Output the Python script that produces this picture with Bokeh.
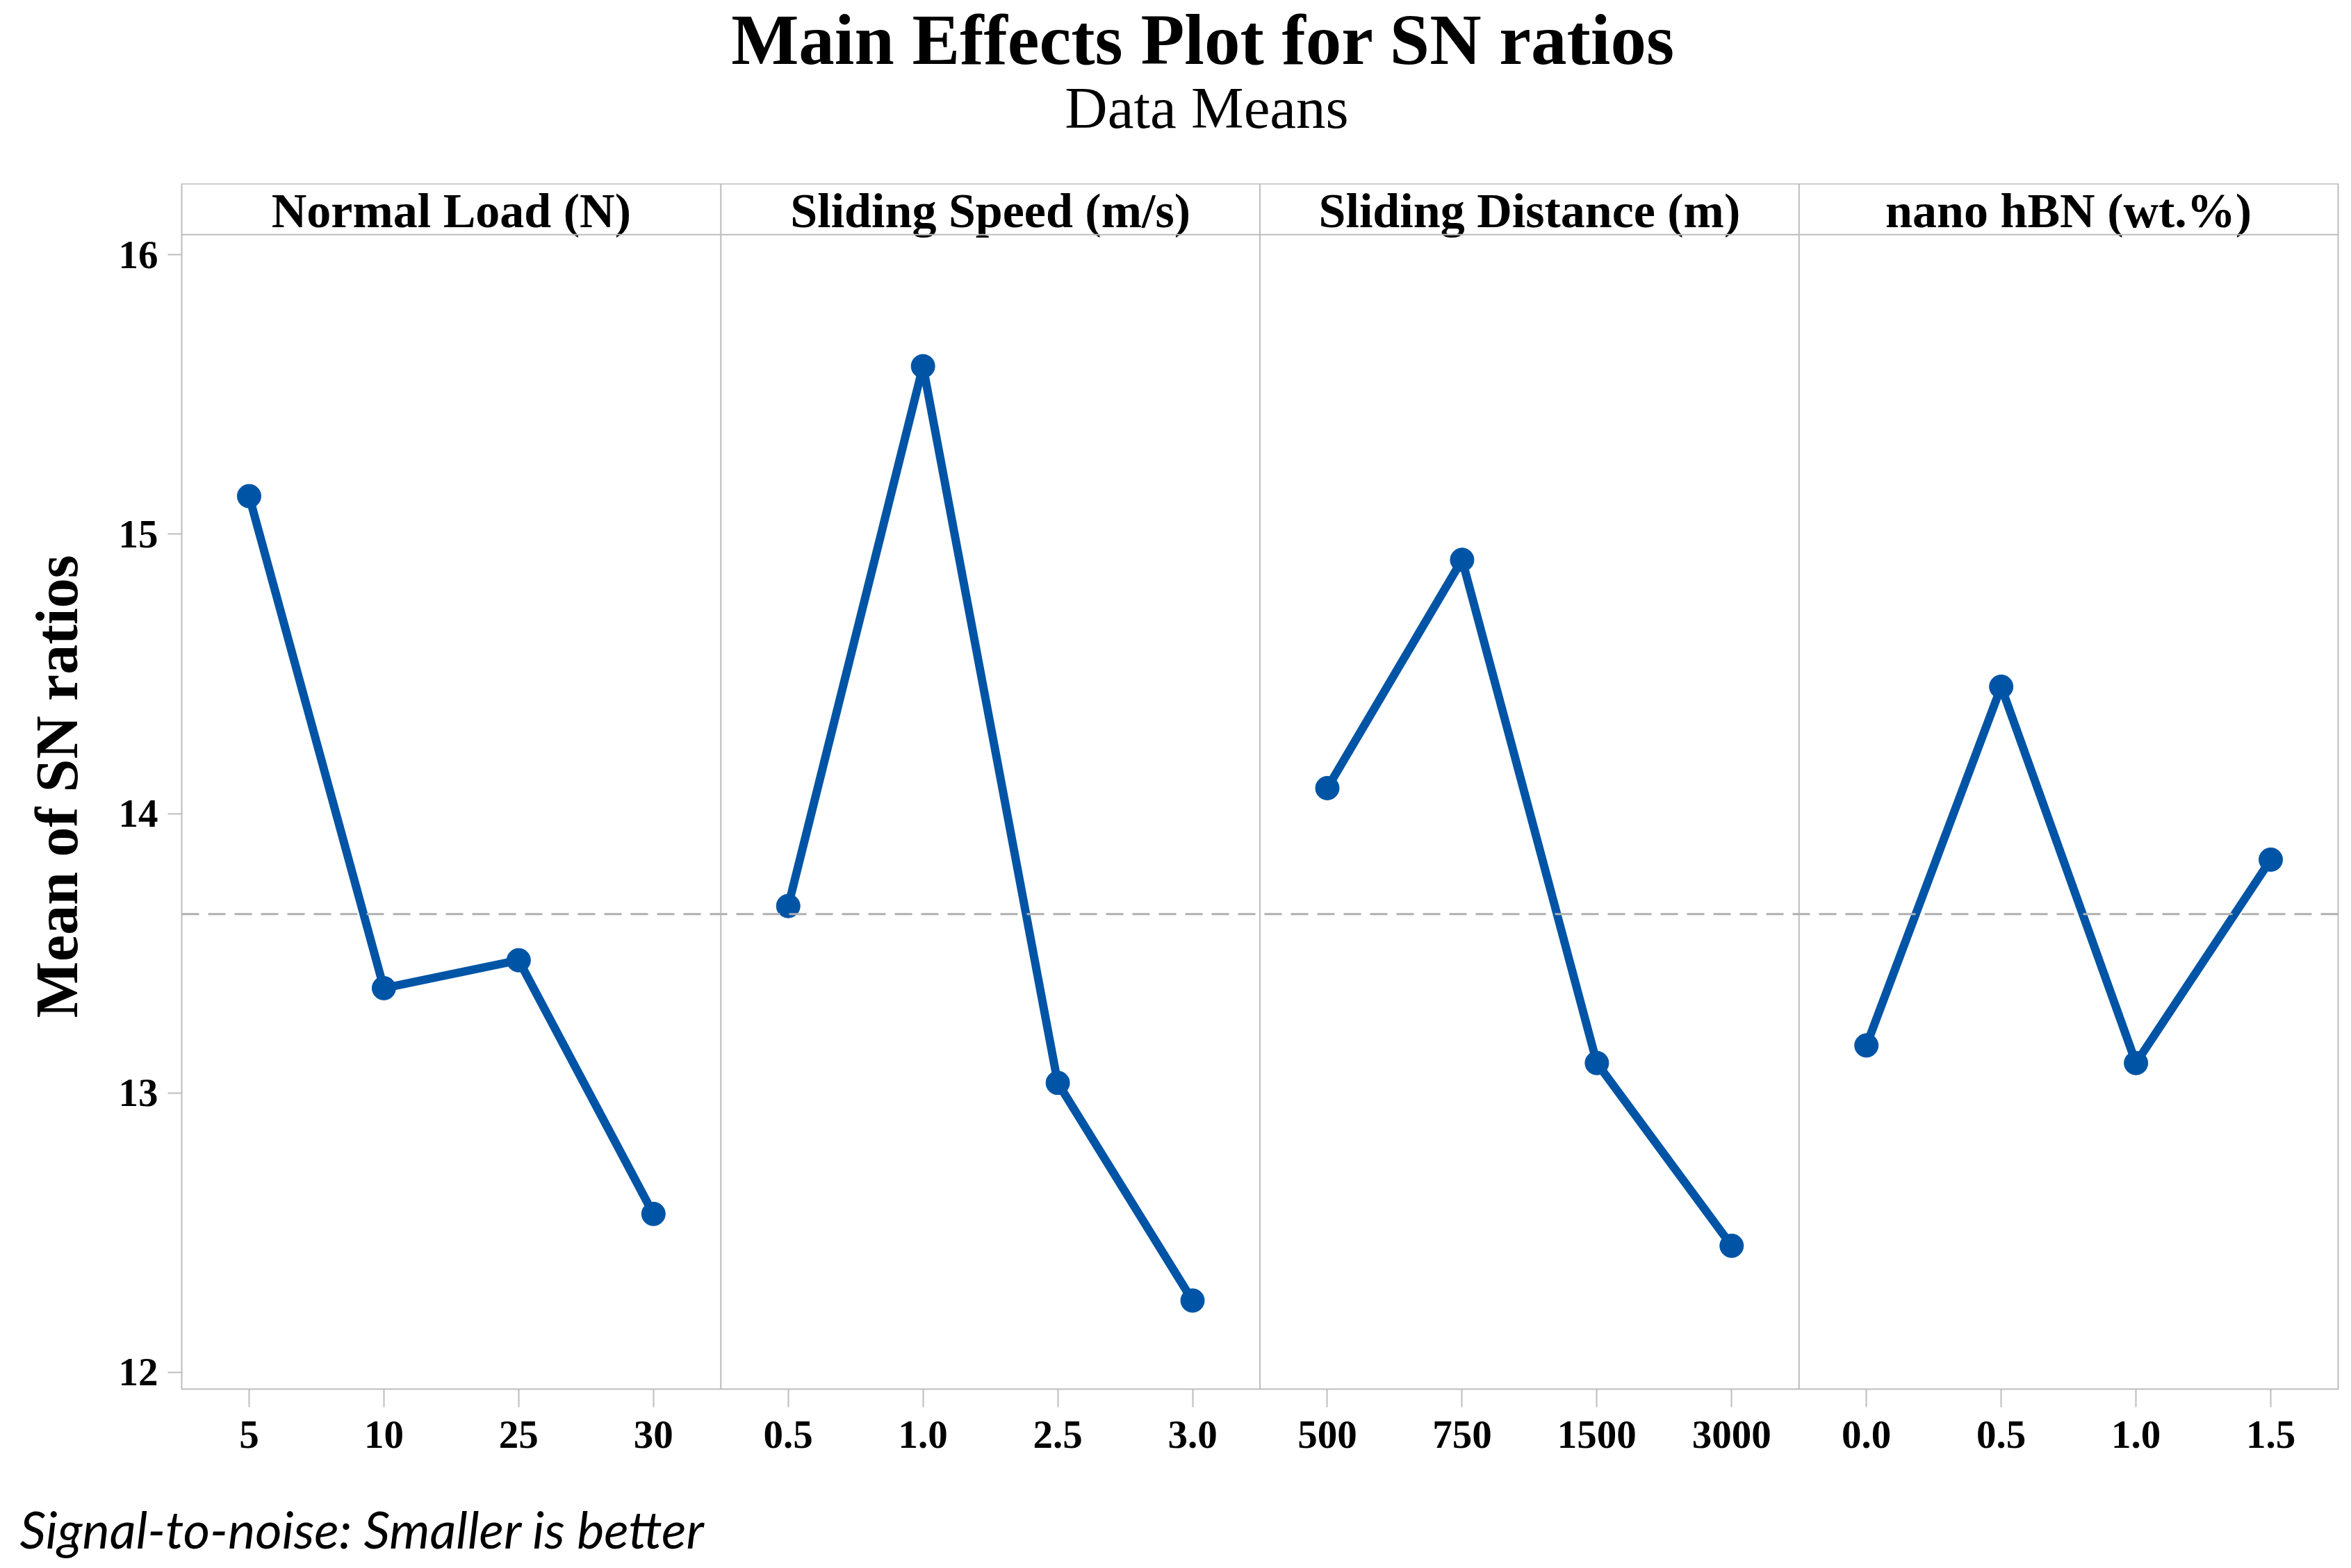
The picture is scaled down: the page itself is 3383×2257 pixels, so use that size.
from bokeh.plotting import figure
from bokeh.layouts import column
from bokeh.models import FixedTicker, Span, Range1d, ColumnDataSource
from bokeh.core.properties import value
from bokeh.embed import file_html
from bokeh.resources import INLINE

# ---- data ----
factors = ["Normal Load (N)", "Sliding Speed (m/s)", "Sliding Distance (m)", "nano hBN (wt.%)"]
load_levels = ["5", "10", "25", "30"]
speed_levels = ["0.5", "1.0", "2.5", "3.0"]
distance_levels = ["500", "750", "1500", "3000"]
hbn_levels = ["0.0", "0.5", "1.0", "1.5"]
load_sn = [15.136, 13.375, 13.475, 12.567]
speed_sn = [13.669, 15.601, 13.036, 12.257]
distance_sn = [14.091, 14.908, 13.107, 12.453]
hbn_sn = [13.170, 14.454, 13.107, 13.835]
y_ticks = [12, 13, 14, 15, 16]

all_levels = [load_levels, speed_levels, distance_levels, hbn_levels]
all_sn = [load_sn, speed_sn, distance_sn, hbn_sn]
n_lev = len(load_levels)
grand_mean = sum(sum(s) for s in all_sn) / sum(len(s) for s in all_sn)

BLUE = "#0054a6"
GRAY = "#bdbdbd"
SERIF = "Liberation Serif"

W = 3376
TOP_H = 264
MAIN_H = 1876
FOOT_H = 110

# layout constants (annotation positions)
Y_LO, Y_HI = 11.940, 16.254
STRIP_BOTTOM = 16.072
STRIP_BASE = 16.157


def blank(h):
    f = figure(width=W, height=h, output_backend="svg", toolbar_location=None,
               x_range=Range1d(0, W), y_range=Range1d(0, h),
               min_border=0, title=None)
    f.axis.visible = False
    f.grid.visible = False
    f.outline_line_color = None
    f.background_fill_color = "white"
    f.border_fill_color = "white"
    f.frame_align = False
    return f


# ---- title block ----
top = blank(TOP_H)
top.text(x=[1731], y=[208], text=["Main Effects Plot for SN ratios"], text_align="center",
         text_baseline="alphabetic", text_font=value(SERIF), text_font_style="bold",
         text_font_size="103px", text_color="black")
top.text(x=[1736], y=[110], text=["Data Means"], text_align="center",
         text_baseline="alphabetic", text_font=value(SERIF), text_font_style="normal",
         text_font_size="85px", text_color="black")

# ---- main panel ----
p = figure(width=W, height=MAIN_H, output_backend="svg", toolbar_location=None,
           x_range=Range1d(0, n_lev * len(factors)), y_range=Range1d(Y_LO, Y_HI),
           min_border_left=261, min_border_right=12, min_border_top=0, min_border_bottom=141,
           title=None)
p.background_fill_color = "white"
p.border_fill_color = "white"
p.outline_line_color = GRAY
p.outline_line_width = 2
p.xgrid.visible = False
p.ygrid.visible = False

tick_pos = []
overrides = {}
for k, (levs, vals) in enumerate(zip(all_levels, all_sn)):
    xs = [k * n_lev + i + 0.5 for i in range(len(levs))]
    src = ColumnDataSource(dict(x=xs, y=vals))
    p.line("x", "y", source=src, line_color=BLUE, line_width=12)
    p.scatter("x", "y", source=src, size=34, fill_color=BLUE, line_color=BLUE)
    for x, lab in zip(xs, levs):
        tick_pos.append(x)
        overrides[x] = lab

for k in range(1, len(factors)):
    p.add_layout(Span(location=k * n_lev, dimension="height", line_color=GRAY, line_width=2))
p.add_layout(Span(location=STRIP_BOTTOM, dimension="width", line_color=GRAY, line_width=2))
p.add_layout(Span(location=grand_mean, dimension="width", line_color="#b0b0b0",
                  line_width=3, line_dash="25 13"))

hx = [k * n_lev + n_lev / 2 for k in range(len(factors))]
p.text(x=hx, y=[STRIP_BASE] * len(factors), text=factors, text_align="center",
       text_baseline="alphabetic", text_font=value(SERIF), text_font_style="bold",
       text_font_size="70px", text_color="black")

xa = p.xaxis[0]
xa.ticker = FixedTicker(ticks=tick_pos)
xa.major_label_overrides = overrides
xa.minor_tick_line_color = None
xa.major_tick_out = 26
xa.major_tick_in = 0
xa.major_tick_line_color = GRAY
xa.major_tick_line_width = 2
xa.axis_line_color = None
xa.major_label_text_font = SERIF
xa.major_label_text_font_style = "bold"
xa.major_label_text_font_size = "57px"
xa.major_label_text_color = "black"
xa.major_label_standoff = 20

ya = p.yaxis[0]
ya.ticker = FixedTicker(ticks=y_ticks)
ya.minor_tick_line_color = None
ya.major_tick_out = 20
ya.major_tick_in = 0
ya.major_tick_line_color = GRAY
ya.major_tick_line_width = 2
ya.axis_line_color = None
ya.major_label_text_font = SERIF
ya.major_label_text_font_style = "bold"
ya.major_label_text_font_size = "57px"
ya.major_label_text_color = "black"
ya.major_label_standoff = 14
ya.axis_label = "Mean of SN ratios"
ya.axis_label_text_font = SERIF
ya.axis_label_text_font_style = "bold"
ya.axis_label_text_font_size = "86px"
ya.axis_label_text_color = "black"
ya.axis_label_standoff = 38

# ---- footer ----
foot = blank(FOOT_H)
foot.text(x=[28], y=[50], text=["Signal-to-noise: Smaller is better"], text_align="left",
          text_baseline="alphabetic", text_font=value("Lato"), text_font_style="italic",
          text_font_size="74px", text_color="black")

layout = column(top, p, foot, spacing=0)
open("out.html", "w").write(file_html(layout, INLINE))
